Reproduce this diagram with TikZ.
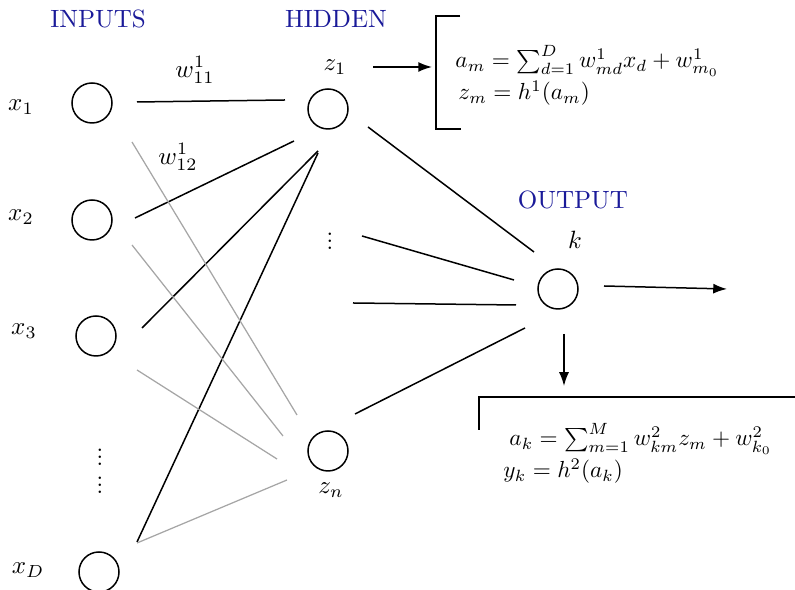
\documentclass[tikz,border=0pt]{standalone}
\usetikzlibrary{arrows.meta}
\definecolor{layerblue}{HTML}{1A1A99}
\tikzset{
  neuron/.style={circle, draw, semithick, minimum size=16pt, inner sep=0pt},
  wire/.style={semithick},
  faint/.style={draw=black!35, line width=0.5pt},
  flow/.style={semithick, -{Latex[length=5.5pt,width=4pt]}},
  layername/.style={text=layerblue},
  moredots/.style={font=\LARGE, scale=0.7, inner sep=0pt},
  formula/.style={anchor=base west, inner sep=0pt, scale=0.93}
}

\begin{document}
\begin{tikzpicture}[x=0.4pt, y=-0.4pt]

  \useasboundingbox (0,0) rectangle (795,590);

  % layer names
  \node[layername] (inhead) at (98,19) {INPUTS};
  \node[layername] (hidhead) at (336,19) {HIDDEN};
  \node[layername] (outhead) at (573,200) {OUTPUT};

  % neurons
  \node[neuron] (x1) at (92,103) {};
  \node[neuron] (x2) at (92,220) {};
  \node[neuron] (x3) at (96,336) {};
  \node[neuron] (xD) at (99,572) {};
  \node[neuron] (z1) at (328,109) {};
  \node[neuron] (zn) at (328,451) {};
  \node[neuron] (k)  at (558,289) {};

  % neuron labels
  \node (x1lab) at (21,107) {$x_1$};
  \node (x2lab) at (21,217) {$x_2$};
  \node (x3lab) at (24,331) {$x_3$};
  \node (xDlab) at (28,570) {$x_D$};
  \node (z1lab) at (335,67) {$z_1$};
  \node (znlab) at (331,490) {$z_n$};
  \node (klab)  at (575,240) {$k$};

  % weights
  \node (w11) at (195,70) {$w^1_{11}$};
  \node (w12) at (178,157) {$w^1_{12}$};

  % dots
  \node[moredots] (indotsa) at (100,452) {$\vdots$};
  \node[moredots] (indotsb) at (100,480) {$\vdots$};
  \node[moredots] (hiddots) at (330,236) {$\vdots$};
  \coordinate (zgap) at (353,303);

  % input -> hidden
  \draw[wire] ([shift={(45,-1)}]x1.center) -- ([shift={(-43,-9)}]z1.center);
  \draw[wire] ([shift={(43,-2)}]x2.center) -- ([shift={(-34,32)}]z1.center);
  \draw[wire] ([shift={(46,-8)}]x3.center) -- ([shift={(-10,42)}]z1.center);
  \draw[wire] ([shift={(38,-30)}]xD.center) -- ([shift={(-10,44)}]z1.center);

  \draw[faint] ([shift={(40,39)}]x1.center) -- ([shift={(-31,-36)}]zn.center);
  \draw[faint] ([shift={(40,25)}]x2.center) -- ([shift={(-45,-15)}]zn.center);
  \draw[faint] ([shift={(41,34)}]x3.center) -- ([shift={(-51,8)}]zn.center);
  \draw[faint] ([shift={(38,-29)}]xD.center) -- ([shift={(-41,29)}]zn.center);

  % hidden -> output
  \draw[wire] ([shift={(40,18)}]z1.center) -- ([shift={(-24,-37)}]k.center);
  \draw[wire] ([shift={(32,0)}]hiddots.center) -- ([shift={(-44,-9)}]k.center);
  \draw[wire] (zgap) -- ([shift={(-42,16)}]k.center);
  \draw[wire] ([shift={(27,-37)}]zn.center) -- ([shift={(-33,39)}]k.center);

  % hidden unit formulas
  \coordinate (hbr) at (436,67);
  \draw[wire] ([shift={(24,-51)}]hbr) -- ([shift={(0,-51)}]hbr)
    -- ([shift={(0,62)}]hbr) -- ([shift={(25,62)}]hbr);
  \draw[flow] ([shift={(45,-42)}]z1.center) -- ([shift={(-4,0)}]hbr);
  \node[formula] (amform) at (455,68)
    {$a_m = \sum_{d=1}^{D} w^1_{md} x_d + w^1_{m_0}$};
  \node[formula] (zmform) at (458,100)
    {$z_m = h^1(a_m)$};

  % output unit formulas
  \coordinate (obr) at (479,397);
  \coordinate (yout) at (727,289);
  \draw[wire] ([shift={(0,33)}]obr) -- (obr) -- ([shift={(316,0)}]obr);
  \draw[flow] ([shift={(46,-3)}]k.center) -- (yout);
  \draw[flow] ([shift={(6,45)}]k.center) -- ([shift={(85,-11)}]obr);
  \node[formula] (akform) at (509,446)
    {$a_k = \sum_{m=1}^{M} w^2_{km} z_m + w^2_{k_0}$};
  \node[formula] (ykform) at (503,478)
    {$y_k = h^2(a_k)$};

\end{tikzpicture}
\end{document}
